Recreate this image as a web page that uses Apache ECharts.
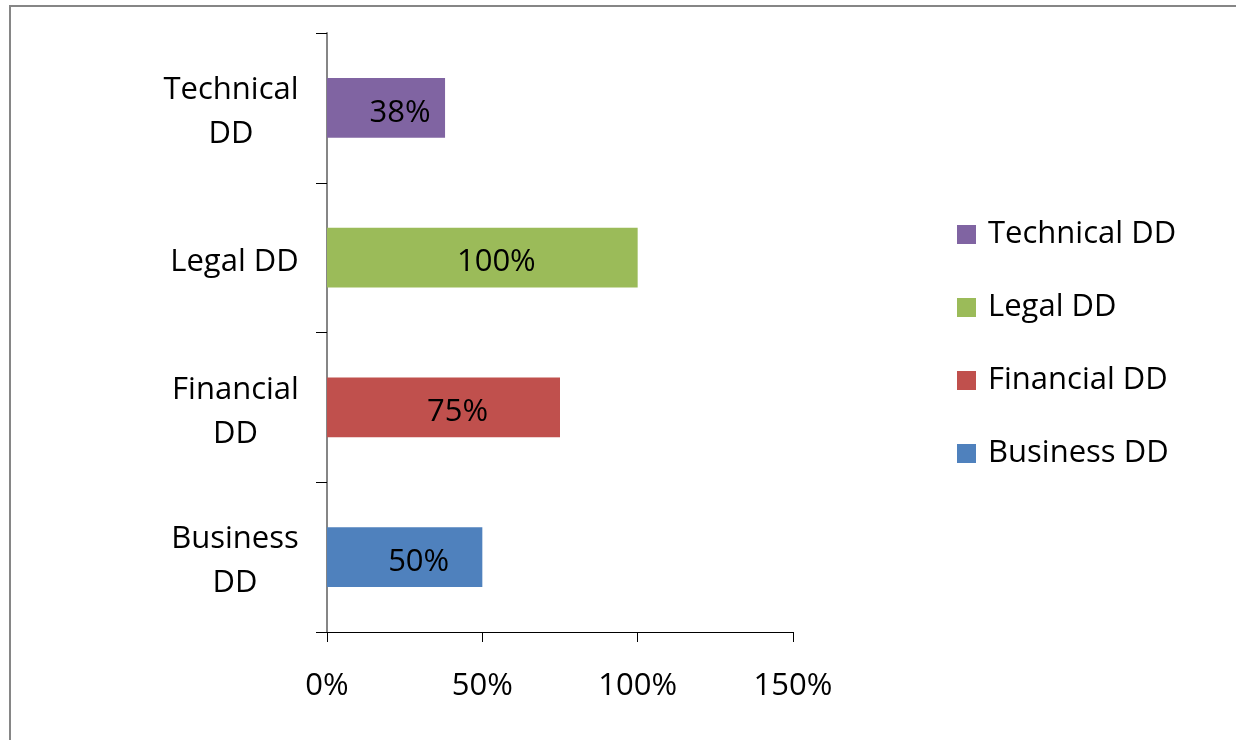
<!DOCTYPE html>
<html>
<head>
<meta charset="utf-8">
<script src="https://cdn.jsdelivr.net/npm/echarts@6/dist/echarts.min.js"></script>
<style>
  html, body { margin: 0; padding: 0; background: #fff; }
  #chart { width: 1236px; height: 740px; }
</style>
</head>
<body>
<div id="chart"></div>
<script>
// Due-diligence completion by workstream (bottom to top on the category axis)
const categories = ['Business DD', 'Financial DD', 'Legal DD', 'Technical DD'];
const tickLabels = ['Business\nDD', 'Financial\nDD', 'Legal DD', 'Technical\nDD'];
const values = [50, 75, 100, 38];
const colors = ['#4F81BD', '#C0504D', '#9BBB59', '#8064A2'];
const legendOrder = ['Technical DD', 'Legal DD', 'Financial DD', 'Business DD'];

const FONT = '"Open Sans", "Noto Sans", sans-serif';
const FS = 31;

// Measure each wrapped tick label so its lines can be centred within a right-aligned block
const ctx = document.createElement('canvas').getContext('2d');
ctx.font = FS + 'px "Open Sans"';
const rich = {};
tickLabels.forEach((t, i) => {
  const w = Math.max(...t.split('\n').map(s => ctx.measureText(s).width));
  rich['c' + i] = { width: Math.ceil(w), align: 'center', fontSize: FS, fontFamily: FONT, color: '#000', lineHeight: 44 };
});

const chart = echarts.init(document.getElementById('chart'), null, { renderer: 'canvas' });

const series = categories.map((name, i) => ({
  name: name,
  type: 'bar',
  stack: 'dd',
  barWidth: '40%',
  data: categories.map((c, j) => (j === i ? values[i] : '-')),
  itemStyle: { color: colors[i] },
  label: {
    show: true,
    position: 'inside',
    offset: [14, 5],
    formatter: '{c}%',
    color: '#000',
    fontSize: FS,
    fontFamily: FONT
  },
  emphasis: { disabled: true }
}));

chart.setOption({
  animation: false,
  backgroundColor: '#fff',
  textStyle: { fontFamily: FONT },
  graphic: [{
    type: 'rect',
    shape: { x: 10, y: 6, width: 1400, height: 900 },
    style: { fill: 'none', stroke: '#868686', lineWidth: 2 },
    silent: true
  }],
  grid: { left: 327, right: 443, top: 33, bottom: 108, containLabel: false },
  legend: {
    orient: 'vertical',
    left: 957,
    top: 219,
    padding: 0,
    icon: 'rect',
    itemWidth: 19,
    itemHeight: 19,
    itemGap: 42,
    itemStyle: { borderWidth: 0 },
    data: legendOrder,
    textStyle: { fontSize: FS, fontFamily: FONT, color: '#000', lineHeight: 31, padding: [0, 0, 0, 7] },
    selectedMode: false
  },
  xAxis: {
    type: 'value',
    min: 0,
    max: 150,
    interval: 50,
    splitLine: { show: false },
    axisLine: { show: true, lineStyle: { color: '#000', width: 1 } },
    axisTick: { show: true, length: 10, lineStyle: { color: '#000' } },
    axisLabel: { formatter: '{value}%', fontSize: FS, fontFamily: FONT, color: '#000', margin: 39 }
  },
  yAxis: {
    type: 'category',
    data: categories,
    axisLine: { show: true, lineStyle: { color: '#868686', width: 2 } },
    axisTick: { show: true, length: 11, lineStyle: { color: '#000' } },
    axisLabel: {
      align: 'right',
      margin: 28,
      padding: [9, 0, 0, 0],
      formatter: (v, idx) => tickLabels[idx].split('\n').map(s => '{c' + idx + '|' + s + '}').join('\n'),
      rich: rich
    }
  },
  series: series
});
</script>
</body>
</html>
